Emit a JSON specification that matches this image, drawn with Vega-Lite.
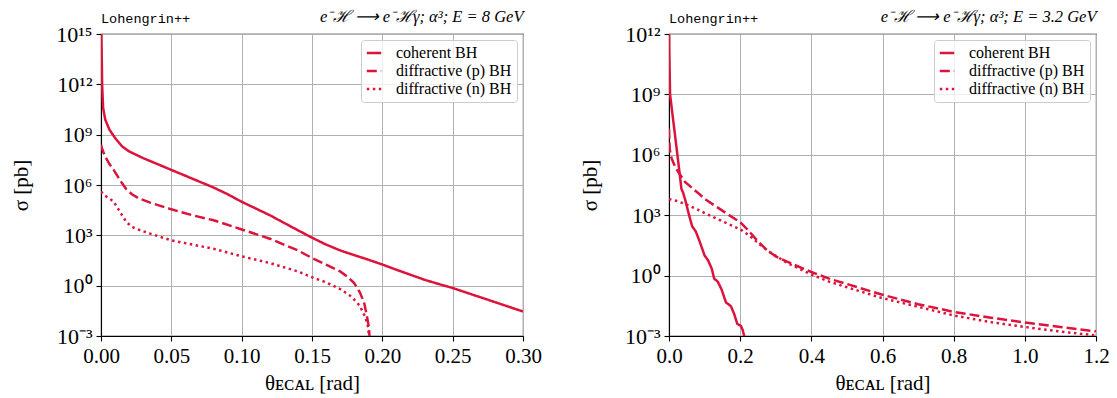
{
  "$schema": "https://vega.github.io/schema/vega-lite/v6.json",
  "padding": {"left": 10, "top": 7, "right": 5, "bottom": 5},
  "background": "white",
  "config": {
    "view": {"stroke": "#000000", "strokeWidth": 1.1},
    "font": "Liberation Serif",
    "axis": {
      "labelFont": "Liberation Serif", "labelFontSize": 21, "labelColor": "#000000", "labelFlush": false,
      "titleFont": "Liberation Serif", "titleFontSize": 21, "titleFontWeight": "normal", "titleColor": "#000000",
      "gridColor": "#b0b0b0", "gridWidth": 1, "gridOpacity": 1,
      "domainColor": "#000000", "domainWidth": 1.1, "tickColor": "#000000", "tickSize": 5, "tickWidth": 1.1, "labelPadding": 4
    },
    "axisY": {"labelFontSize": 22, "titlePadding": 24},
    "legend": {
      "orient": "top-right", "offset": 6, "padding": 5,
      "strokeColor": "#cccccc", "fillColor": "rgba(255,255,255,0.8)", "cornerRadius": 3,
      "labelFont": "Liberation Serif", "labelFontSize": 16, "labelColor": "#000000",
      "symbolType": "M-1.2,0H1.2", "symbolSize": 144, "symbolStrokeWidth": 2.5, "symbolStrokeColor": "#dc143c",
      "rowPadding": 2, "labelOffset": 14, "title": null
    },
    "title": {"anchor": "start", "frame": "group", "font": "Liberation Mono", "fontSize": 13.5, "fontWeight": "normal", "color": "#000000", "offset": -17}
  },
  "datasets": {
    "left": [
      {"series": "coherent BH", "theta": 0.0003, "sigma": 1e15},
      {"series": "coherent BH", "theta": 0.0008, "sigma": 1e12},
      {"series": "coherent BH", "theta": 0.0015, "sigma": 3.98e10},
      {"series": "coherent BH", "theta": 0.003, "sigma": 7.94e9},
      {"series": "coherent BH", "theta": 0.006, "sigma": 2.0e9},
      {"series": "coherent BH", "theta": 0.01, "sigma": 6.31e8},
      {"series": "coherent BH", "theta": 0.015, "sigma": 2.0e8},
      {"series": "coherent BH", "theta": 0.02, "sigma": 1.0e8},
      {"series": "coherent BH", "theta": 0.03, "sigma": 3.98e7},
      {"series": "coherent BH", "theta": 0.04, "sigma": 1.78e7},
      {"series": "coherent BH", "theta": 0.05, "sigma": 7.94e6},
      {"series": "coherent BH", "theta": 0.06, "sigma": 3.55e6},
      {"series": "coherent BH", "theta": 0.07, "sigma": 1.58e6},
      {"series": "coherent BH", "theta": 0.08, "sigma": 7.08e5},
      {"series": "coherent BH", "theta": 0.09, "sigma": 2.82e5},
      {"series": "coherent BH", "theta": 0.10, "sigma": 1.0e5},
      {"series": "coherent BH", "theta": 0.11, "sigma": 3.98e4},
      {"series": "coherent BH", "theta": 0.12, "sigma": 1.58e4},
      {"series": "coherent BH", "theta": 0.13, "sigma": 5.62e3},
      {"series": "coherent BH", "theta": 0.14, "sigma": 2.0e3},
      {"series": "coherent BH", "theta": 0.15, "sigma": 724},
      {"series": "coherent BH", "theta": 0.16, "sigma": 282},
      {"series": "coherent BH", "theta": 0.17, "sigma": 126},
      {"series": "coherent BH", "theta": 0.18, "sigma": 66},
      {"series": "coherent BH", "theta": 0.19, "sigma": 35.5},
      {"series": "coherent BH", "theta": 0.20, "sigma": 18.2},
      {"series": "coherent BH", "theta": 0.21, "sigma": 8.91},
      {"series": "coherent BH", "theta": 0.22, "sigma": 4.47},
      {"series": "coherent BH", "theta": 0.23, "sigma": 2.24},
      {"series": "coherent BH", "theta": 0.24, "sigma": 1.26},
      {"series": "coherent BH", "theta": 0.25, "sigma": 0.724},
      {"series": "coherent BH", "theta": 0.26, "sigma": 0.38},
      {"series": "coherent BH", "theta": 0.27, "sigma": 0.2},
      {"series": "coherent BH", "theta": 0.28, "sigma": 0.105},
      {"series": "coherent BH", "theta": 0.29, "sigma": 0.055},
      {"series": "coherent BH", "theta": 0.30, "sigma": 0.0288},
      {"series": "diffractive (p) BH", "theta": 0.0, "sigma": 2.51e8},
      {"series": "diffractive (p) BH", "theta": 0.001, "sigma": 1.26e8},
      {"series": "diffractive (p) BH", "theta": 0.003, "sigma": 5.01e7},
      {"series": "diffractive (p) BH", "theta": 0.006, "sigma": 1.78e7},
      {"series": "diffractive (p) BH", "theta": 0.009, "sigma": 7.94e6},
      {"series": "diffractive (p) BH", "theta": 0.012, "sigma": 3.16e6},
      {"series": "diffractive (p) BH", "theta": 0.015, "sigma": 1.26e6},
      {"series": "diffractive (p) BH", "theta": 0.018, "sigma": 5.62e5},
      {"series": "diffractive (p) BH", "theta": 0.022, "sigma": 2.82e5},
      {"series": "diffractive (p) BH", "theta": 0.027, "sigma": 1.58e5},
      {"series": "diffractive (p) BH", "theta": 0.035, "sigma": 8.91e4},
      {"series": "diffractive (p) BH", "theta": 0.05, "sigma": 3.55e4},
      {"series": "diffractive (p) BH", "theta": 0.065, "sigma": 1.58e4},
      {"series": "diffractive (p) BH", "theta": 0.08, "sigma": 7.94e3},
      {"series": "diffractive (p) BH", "theta": 0.10, "sigma": 2.24e3},
      {"series": "diffractive (p) BH", "theta": 0.12, "sigma": 631},
      {"series": "diffractive (p) BH", "theta": 0.14, "sigma": 126},
      {"series": "diffractive (p) BH", "theta": 0.15, "sigma": 44.7},
      {"series": "diffractive (p) BH", "theta": 0.16, "sigma": 17.8},
      {"series": "diffractive (p) BH", "theta": 0.17, "sigma": 7.08},
      {"series": "diffractive (p) BH", "theta": 0.175, "sigma": 3.55},
      {"series": "diffractive (p) BH", "theta": 0.18, "sigma": 1.41},
      {"series": "diffractive (p) BH", "theta": 0.184, "sigma": 0.398},
      {"series": "diffractive (p) BH", "theta": 0.187, "sigma": 0.1},
      {"series": "diffractive (p) BH", "theta": 0.189, "sigma": 0.0158},
      {"series": "diffractive (p) BH", "theta": 0.1905, "sigma": 0.00316},
      {"series": "diffractive (p) BH", "theta": 0.191, "sigma": 0.00063},
      {"series": "diffractive (n) BH", "theta": 0.0, "sigma": 3.98e5},
      {"series": "diffractive (n) BH", "theta": 0.003, "sigma": 2.24e5},
      {"series": "diffractive (n) BH", "theta": 0.006, "sigma": 1.58e5},
      {"series": "diffractive (n) BH", "theta": 0.009, "sigma": 1.0e5},
      {"series": "diffractive (n) BH", "theta": 0.012, "sigma": 3.98e4},
      {"series": "diffractive (n) BH", "theta": 0.015, "sigma": 1.58e4},
      {"series": "diffractive (n) BH", "theta": 0.018, "sigma": 6.31e3},
      {"series": "diffractive (n) BH", "theta": 0.022, "sigma": 3.16e3},
      {"series": "diffractive (n) BH", "theta": 0.028, "sigma": 2.0e3},
      {"series": "diffractive (n) BH", "theta": 0.035, "sigma": 1.26e3},
      {"series": "diffractive (n) BH", "theta": 0.05, "sigma": 501},
      {"series": "diffractive (n) BH", "theta": 0.065, "sigma": 282},
      {"series": "diffractive (n) BH", "theta": 0.08, "sigma": 158},
      {"series": "diffractive (n) BH", "theta": 0.10, "sigma": 56.2},
      {"series": "diffractive (n) BH", "theta": 0.12, "sigma": 22.4},
      {"series": "diffractive (n) BH", "theta": 0.14, "sigma": 7.08},
      {"series": "diffractive (n) BH", "theta": 0.15, "sigma": 3.16},
      {"series": "diffractive (n) BH", "theta": 0.16, "sigma": 1.58},
      {"series": "diffractive (n) BH", "theta": 0.17, "sigma": 0.631},
      {"series": "diffractive (n) BH", "theta": 0.178, "sigma": 0.224},
      {"series": "diffractive (n) BH", "theta": 0.184, "sigma": 0.0631},
      {"series": "diffractive (n) BH", "theta": 0.188, "sigma": 0.0126},
      {"series": "diffractive (n) BH", "theta": 0.19, "sigma": 0.00316},
      {"series": "diffractive (n) BH", "theta": 0.1905, "sigma": 0.00063}
    ],
    "right": [
      {"series": "coherent BH", "theta": 0.0005, "sigma": 1e12},
      {"series": "coherent BH", "theta": 0.001, "sigma": 1e11},
      {"series": "coherent BH", "theta": 0.003, "sigma": 1e9},
      {"series": "coherent BH", "theta": 0.015, "sigma": 1.78e7},
      {"series": "coherent BH", "theta": 0.025, "sigma": 6.31e5},
      {"series": "coherent BH", "theta": 0.03, "sigma": 1.12e5},
      {"series": "coherent BH", "theta": 0.035, "sigma": 2.0e4},
      {"series": "coherent BH", "theta": 0.04, "sigma": 1.26e4},
      {"series": "coherent BH", "theta": 0.045, "sigma": 6.31e3},
      {"series": "coherent BH", "theta": 0.055, "sigma": 1.26e3},
      {"series": "coherent BH", "theta": 0.065, "sigma": 282},
      {"series": "coherent BH", "theta": 0.075, "sigma": 158},
      {"series": "coherent BH", "theta": 0.085, "sigma": 56.2},
      {"series": "coherent BH", "theta": 0.10, "sigma": 10},
      {"series": "coherent BH", "theta": 0.11, "sigma": 5.62},
      {"series": "coherent BH", "theta": 0.12, "sigma": 2.24},
      {"series": "coherent BH", "theta": 0.127, "sigma": 0.708},
      {"series": "coherent BH", "theta": 0.137, "sigma": 0.501},
      {"series": "coherent BH", "theta": 0.148, "sigma": 0.2},
      {"series": "coherent BH", "theta": 0.16, "sigma": 0.0468},
      {"series": "coherent BH", "theta": 0.174, "sigma": 0.0302},
      {"series": "coherent BH", "theta": 0.183, "sigma": 0.0126},
      {"series": "coherent BH", "theta": 0.192, "sigma": 0.00398},
      {"series": "coherent BH", "theta": 0.202, "sigma": 0.00316},
      {"series": "coherent BH", "theta": 0.207, "sigma": 0.002},
      {"series": "coherent BH", "theta": 0.212, "sigma": 0.00089},
      {"series": "diffractive (p) BH", "theta": 0.0, "sigma": 2.0e7},
      {"series": "diffractive (p) BH", "theta": 0.002, "sigma": 2.0e6},
      {"series": "diffractive (p) BH", "theta": 0.005, "sigma": 8.91e5},
      {"series": "diffractive (p) BH", "theta": 0.01, "sigma": 5.01e5},
      {"series": "diffractive (p) BH", "theta": 0.02, "sigma": 2.0e5},
      {"series": "diffractive (p) BH", "theta": 0.03, "sigma": 1.12e5},
      {"series": "diffractive (p) BH", "theta": 0.045, "sigma": 4.47e4},
      {"series": "diffractive (p) BH", "theta": 0.065, "sigma": 2.24e4},
      {"series": "diffractive (p) BH", "theta": 0.085, "sigma": 1.12e4},
      {"series": "diffractive (p) BH", "theta": 0.105, "sigma": 5.62e3},
      {"series": "diffractive (p) BH", "theta": 0.135, "sigma": 2.51e3},
      {"series": "diffractive (p) BH", "theta": 0.165, "sigma": 1.12e3},
      {"series": "diffractive (p) BH", "theta": 0.2, "sigma": 447},
      {"series": "diffractive (p) BH", "theta": 0.22, "sigma": 200},
      {"series": "diffractive (p) BH", "theta": 0.245, "sigma": 63.1},
      {"series": "diffractive (p) BH", "theta": 0.27, "sigma": 22.4},
      {"series": "diffractive (p) BH", "theta": 0.3, "sigma": 8.91},
      {"series": "diffractive (p) BH", "theta": 0.35, "sigma": 3.55},
      {"series": "diffractive (p) BH", "theta": 0.4, "sigma": 1.51},
      {"series": "diffractive (p) BH", "theta": 0.45, "sigma": 0.708},
      {"series": "diffractive (p) BH", "theta": 0.5, "sigma": 0.38},
      {"series": "diffractive (p) BH", "theta": 0.6, "sigma": 0.112},
      {"series": "diffractive (p) BH", "theta": 0.7, "sigma": 0.038},
      {"series": "diffractive (p) BH", "theta": 0.8, "sigma": 0.0158},
      {"series": "diffractive (p) BH", "theta": 0.9, "sigma": 0.0083},
      {"series": "diffractive (p) BH", "theta": 1.0, "sigma": 0.00468},
      {"series": "diffractive (p) BH", "theta": 1.1, "sigma": 0.00282},
      {"series": "diffractive (p) BH", "theta": 1.2, "sigma": 0.0017},
      {"series": "diffractive (n) BH", "theta": 0.0, "sigma": 6.31e3},
      {"series": "diffractive (n) BH", "theta": 0.02, "sigma": 5.25e3},
      {"series": "diffractive (n) BH", "theta": 0.045, "sigma": 3.63e3},
      {"series": "diffractive (n) BH", "theta": 0.075, "sigma": 2.14e3},
      {"series": "diffractive (n) BH", "theta": 0.105, "sigma": 1.17e3},
      {"series": "diffractive (n) BH", "theta": 0.15, "sigma": 501},
      {"series": "diffractive (n) BH", "theta": 0.2, "sigma": 200},
      {"series": "diffractive (n) BH", "theta": 0.225, "sigma": 100},
      {"series": "diffractive (n) BH", "theta": 0.245, "sigma": 50.1},
      {"series": "diffractive (n) BH", "theta": 0.265, "sigma": 25.1},
      {"series": "diffractive (n) BH", "theta": 0.285, "sigma": 14.1},
      {"series": "diffractive (n) BH", "theta": 0.33, "sigma": 4.47},
      {"series": "diffractive (n) BH", "theta": 0.4, "sigma": 1.12},
      {"series": "diffractive (n) BH", "theta": 0.45, "sigma": 0.501},
      {"series": "diffractive (n) BH", "theta": 0.5, "sigma": 0.263},
      {"series": "diffractive (n) BH", "theta": 0.6, "sigma": 0.0759},
      {"series": "diffractive (n) BH", "theta": 0.7, "sigma": 0.0282},
      {"series": "diffractive (n) BH", "theta": 0.8, "sigma": 0.0105},
      {"series": "diffractive (n) BH", "theta": 0.9, "sigma": 0.005},
      {"series": "diffractive (n) BH", "theta": 1.0, "sigma": 0.00282},
      {"series": "diffractive (n) BH", "theta": 1.1, "sigma": 0.00166},
      {"series": "diffractive (n) BH", "theta": 1.2, "sigma": 0.00107}
    ]
  },
  "spacing": 36,
  "hconcat": [
    {
      "data": {"name": "left"},
      "width": 422,
      "height": 302,
      "title": {"text": "Lohengrin++"},
      "resolve": {"axis": {"x": "independent"}},
      "layer": [
        {
          "transform": [{"filter": "datum.series === 'coherent BH'"}],
          "mark": {"type": "line", "clip": true, "strokeWidth": 2.5, "color": "#dc143c"},
          "encoding": {
            "x": {"field": "theta", "type": "quantitative", "scale": {"domain": [0, 0.3], "nice": false, "zero": false},
                  "axis": {"values": [0, 0.05, 0.1, 0.15, 0.2, 0.25, 0.3], "format": ".2f", "title": "θᴇᴄᴀʟ  [rad]", "titlePadding": 6}},
            "y": {"field": "sigma", "type": "quantitative", "scale": {"type": "log", "domain": [0.001, 1e15], "nice": false},
                  "axis": {"values": [0.001, 1, 1000, 1e6, 1e9, 1e12, 1e15], "title": "σ  [pb]",
                           "labelExpr": "datum.value < 0.01 ? '10⁻³' : datum.value < 10 ? '10⁰' : datum.value < 1e4 ? '10³' : datum.value < 1e7 ? '10⁶' : datum.value < 1e10 ? '10⁹' : datum.value < 1e13 ? '10¹²' : '10¹⁵'"}},
            "strokeDash": {"field": "series", "type": "nominal",
                           "scale": {"domain": ["coherent BH", "diffractive (p) BH", "diffractive (n) BH"], "range": [[1, 0], [10, 4], [2.5, 3.5]]}}
          }
        },
        {
          "transform": [{"filter": "datum.series !== 'coherent BH'"}],
          "mark": {"type": "line", "clip": true, "strokeWidth": 2.5, "color": "#dc143c"},
          "encoding": {
            "x": {"field": "theta", "type": "quantitative", "scale": {"domain": [0, 0.3], "nice": false, "zero": false},
                  "axis": {"orient": "top", "title": "e⁻ℋ ⟶ e⁻ℋγ;  α³;  E = 8 GeV", "titleAnchor": "end", "titleFontSize": 16.5, "titleFontStyle": "italic", "titlePadding": 10, "labels": false, "ticks": false, "domain": false, "grid": false}},
            "y": {"field": "sigma", "type": "quantitative", "scale": {"type": "log", "domain": [0.001, 1e15], "nice": false},
                  "axis": {"values": [0.001, 1, 1000, 1e6, 1e9, 1e12, 1e15], "title": "σ  [pb]",
                           "labelExpr": "datum.value < 0.01 ? '10⁻³' : datum.value < 10 ? '10⁰' : datum.value < 1e4 ? '10³' : datum.value < 1e7 ? '10⁶' : datum.value < 1e10 ? '10⁹' : datum.value < 1e13 ? '10¹²' : '10¹⁵'"}},
            "strokeDash": {"field": "series", "type": "nominal",
                           "scale": {"domain": ["coherent BH", "diffractive (p) BH", "diffractive (n) BH"], "range": [[1, 0], [10, 4], [2.5, 3.5]]}}
          }
        }
      ]
    },
    {
      "data": {"name": "right"},
      "width": 427,
      "height": 302,
      "title": {"text": "Lohengrin++"},
      "resolve": {"axis": {"x": "independent"}},
      "layer": [
        {
          "transform": [{"filter": "datum.series === 'coherent BH'"}],
          "mark": {"type": "line", "clip": true, "strokeWidth": 2.5, "color": "#dc143c"},
          "encoding": {
            "x": {"field": "theta", "type": "quantitative", "scale": {"domain": [0, 1.2], "nice": false, "zero": false},
                  "axis": {"values": [0, 0.2, 0.4, 0.6, 0.8, 1.0, 1.2], "format": ".1f", "title": "θᴇᴄᴀʟ  [rad]", "titlePadding": 6}},
            "y": {"field": "sigma", "type": "quantitative", "scale": {"type": "log", "domain": [0.001, 1e12], "nice": false},
                  "axis": {"values": [0.001, 1, 1000, 1e6, 1e9, 1e12], "title": "σ  [pb]",
                           "labelExpr": "datum.value < 0.01 ? '10⁻³' : datum.value < 10 ? '10⁰' : datum.value < 1e4 ? '10³' : datum.value < 1e7 ? '10⁶' : datum.value < 1e10 ? '10⁹' : datum.value < 1e13 ? '10¹²' : '10¹⁵'"}},
            "strokeDash": {"field": "series", "type": "nominal",
                           "scale": {"domain": ["coherent BH", "diffractive (p) BH", "diffractive (n) BH"], "range": [[1, 0], [10, 4], [2.5, 3.5]]}}
          }
        },
        {
          "transform": [{"filter": "datum.series !== 'coherent BH'"}],
          "mark": {"type": "line", "clip": true, "strokeWidth": 2.5, "color": "#dc143c"},
          "encoding": {
            "x": {"field": "theta", "type": "quantitative", "scale": {"domain": [0, 1.2], "nice": false, "zero": false},
                  "axis": {"orient": "top", "title": "e⁻ℋ ⟶ e⁻ℋγ;  α³;  E = 3.2 GeV", "titleAnchor": "end", "titleFontSize": 16.5, "titleFontStyle": "italic", "titlePadding": 10, "labels": false, "ticks": false, "domain": false, "grid": false}},
            "y": {"field": "sigma", "type": "quantitative", "scale": {"type": "log", "domain": [0.001, 1e12], "nice": false},
                  "axis": {"values": [0.001, 1, 1000, 1e6, 1e9, 1e12], "title": "σ  [pb]",
                           "labelExpr": "datum.value < 0.01 ? '10⁻³' : datum.value < 10 ? '10⁰' : datum.value < 1e4 ? '10³' : datum.value < 1e7 ? '10⁶' : datum.value < 1e10 ? '10⁹' : datum.value < 1e13 ? '10¹²' : '10¹⁵'"}},
            "strokeDash": {"field": "series", "type": "nominal",
                           "scale": {"domain": ["coherent BH", "diffractive (p) BH", "diffractive (n) BH"], "range": [[1, 0], [10, 4], [2.5, 3.5]]}}
          }
        }
      ]
    }
  ],
  "resolve": {"legend": {"strokeDash": "independent"}, "scale": {"strokeDash": "independent"}}
}
